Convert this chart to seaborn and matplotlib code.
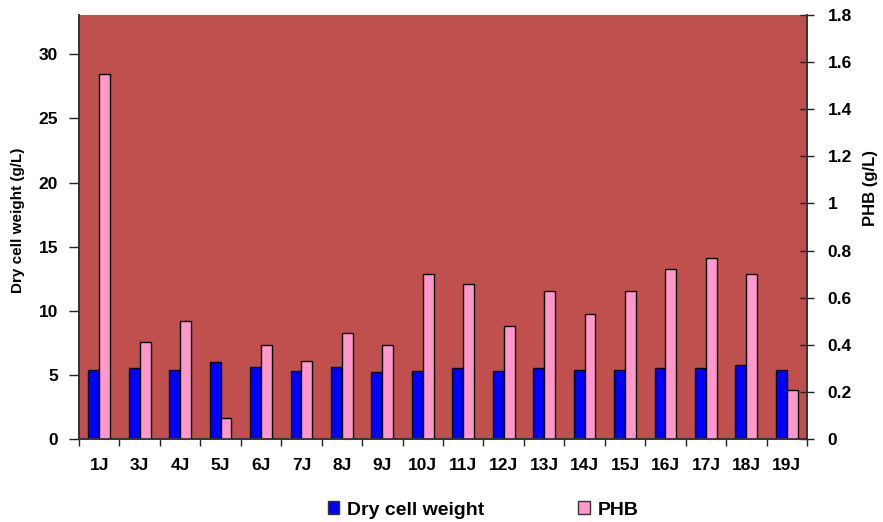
import pandas as pd
import matplotlib
matplotlib.use("Agg")
import matplotlib.pyplot as plt
from matplotlib.patches import Patch
from matplotlib.ticker import FixedLocator
import seaborn as sns

# chart values
strains = ['1J', '3J', '4J', '5J', '6J', '7J', '8J', '9J', '10J', '11J',
           '12J', '13J', '14J', '15J', '16J', '17J', '18J', '19J']
dcw = [5.4, 5.5, 5.4, 6.0, 5.6, 5.3, 5.6, 5.2, 5.3, 5.5,
       5.3, 5.5, 5.4, 5.4, 5.5, 5.5, 5.8, 5.4]
phb = [1.55, 0.41, 0.50, 0.09, 0.40, 0.33, 0.45, 0.40, 0.70, 0.66,
       0.48, 0.63, 0.53, 0.63, 0.72, 0.77, 0.70, 0.21]
left_ticks = [0, 5, 10, 15, 20, 25, 30]
right_ticks = [0, 0.2, 0.4, 0.6, 0.8, 1, 1.2, 1.4, 1.6, 1.8]
right_labels = ['0', '0.2', '0.4', '0.6', '0.8', '1', '1.2', '1.4', '1.6', '1.8']

series = ['Dry cell weight', 'PHB']
colors = {'Dry cell weight': '#0000FF', 'PHB': '#FF99CC'}

plt.rcParams['font.family'] = ['Liberation Sans', 'DejaVu Sans']
plt.rcParams['font.weight'] = 'bold'

df_dcw = pd.DataFrame({'strain': strains, 'value': dcw, 'series': series[0]})
df_phb = pd.DataFrame({'strain': strains, 'value': phb, 'series': series[1]})

fig = plt.figure(figsize=(8.83, 5.22), dpi=100)
ax1 = fig.add_axes([79 / 883, 83 / 522, 728 / 883, 424 / 522])
ax1.set_facecolor('#C0504D')
ax2 = ax1.twinx()

# same hue order on both axes so the bars sit side by side
sns.barplot(data=df_dcw, x='strain', y='value', hue='series', hue_order=series,
            order=strains, palette=colors, saturation=1, width=0.54, dodge=True,
            errorbar=None, edgecolor='black', linewidth=1, legend=False, ax=ax1)
sns.barplot(data=df_phb, x='strain', y='value', hue='series', hue_order=series,
            order=strains, palette=colors, saturation=1, width=0.54, dodge=True,
            errorbar=None, edgecolor='black', linewidth=1, legend=False, ax=ax2)

ax1.set_xlim(-0.5, len(strains) - 0.5)
ax1.set_ylim(0, 33.07)
ax2.set_ylim(0, 1.8)
ax1.set_yticks(left_ticks)
ax2.set_yticks(right_ticks)
ax2.set_yticklabels(right_labels)

# x axis: labels centred, tick marks on category boundaries
ax1.tick_params(axis='x', which='major', length=0, pad=14, labelsize=12.5)
ax1.xaxis.set_minor_locator(FixedLocator([i - 0.5 for i in range(len(strains) + 1)]))
ax1.tick_params(axis='x', which='minor', length=5, width=1, color='#222222')
ax2.tick_params(axis='x', which='both', length=0)
ax1.tick_params(axis='y', length=7, width=1, pad=8, labelsize=12.5, color='#222222')
ax2.tick_params(axis='y', direction='inout', length=10, width=1, pad=10,
                labelsize=12.5, color='#222222')

ax1.set_xlabel('')
ax2.set_xlabel('')
ax1.set_ylabel('Dry cell weight (g/L)', fontsize=11, fontweight='bold')
ax2.set_ylabel('PHB (g/L)', fontsize=12, fontweight='bold')
ax1.yaxis.set_label_coords(-0.0742, 0.516)
ax2.yaxis.set_label_coords(1.0769, 0.591)

for ax in (ax1, ax2):
    ax.spines['top'].set_visible(False)
    for s in ('left', 'right', 'bottom'):
        ax.spines[s].set_color('#333333')
        ax.spines[s].set_linewidth(1.2)

handles = [Patch(facecolor=colors[s], edgecolor='#333333', label=s) for s in series]
fig.legend(handles=handles, loc='center', bbox_to_anchor=(483 / 883, 12 / 522),
           ncol=2, frameon=False, fontsize=14, handlelength=0.6, handleheight=0.6,
           handletextpad=0.4, columnspacing=4.8)

fig.savefig('out.png', dpi=100)
